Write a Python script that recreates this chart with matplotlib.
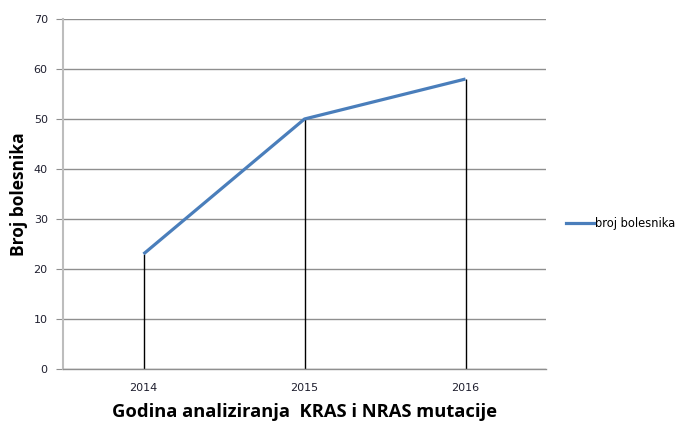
import matplotlib
matplotlib.use("Agg")
import matplotlib.pyplot as plt
from matplotlib.lines import Line2D

years = ["2014", "2015", "2016"]
patients = [23, 50, 58]
yticks = [0, 10, 20, 30, 40, 50, 60, 70]

fig = plt.figure(figsize=(6.79, 4.21), dpi=100)
ax = fig.add_axes([63/679, 52/421, 483/679, 350/421])

x = list(range(len(years)))
ax.set_xlim(-0.5, len(years) - 0.5)
ax.set_ylim(0, 70)
ax.set_yticks(yticks)
ax.set_xticks(x)
ax.set_xticklabels(years)

ax.yaxis.grid(True, color="#8f8f8f", linewidth=1)
ax.set_axisbelow(True)
for s in ["top", "right"]:
    ax.spines[s].set_visible(False)
ax.spines["left"].set_color("#bdbdbd")
ax.spines["left"].set_linewidth(1.5)
ax.spines["bottom"].set_color("#8f8f8f")
ax.spines["bottom"].set_linewidth(1)
ax.tick_params(axis="y", length=5, color="#8f8f8f", labelsize=8, pad=6, labelcolor="#1f1f2f")
ax.tick_params(axis="x", length=0, labelsize=8, pad=10, labelcolor="#1f1f2f")

ax.vlines(x, 0, patients, colors="black", linewidth=1, zorder=2)
ax.plot(x, patients, color="#4a7ebb", linewidth=2.3, solid_capstyle="butt", zorder=3)

ax.set_xlabel("Godina analiziranja  KRAS i NRAS mutacije", fontsize=13.2, fontweight="bold",
              family="Open Sans", labelpad=7)
ax.set_ylabel("Broj bolesnika", fontsize=12.5, fontweight="bold", family="Open Sans")
ax.yaxis.set_label_coords((28 - 63) / 483, 0.5)

handle = Line2D([0], [0], color="#4a7ebb", linewidth=2.3)
fig.legend([handle], ["broj bolesnika"], loc="center left", bbox_to_anchor=(566/679, 1 - 224/421),
           frameon=False, fontsize=8.3, handlelength=2.4, handletextpad=0.1, borderaxespad=0,
           borderpad=0)

fig.savefig("out.png", dpi=100)
